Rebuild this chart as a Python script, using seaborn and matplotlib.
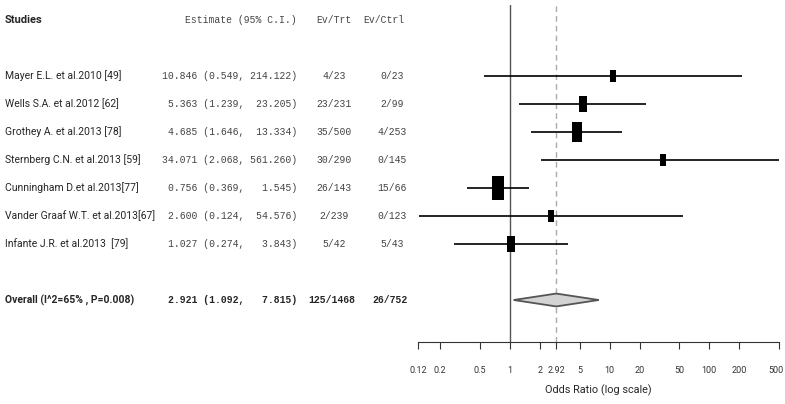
import numpy as np
import pandas as pd
import matplotlib
matplotlib.use("Agg")
import matplotlib.pyplot as plt
import matplotlib.transforms as mtransforms
from matplotlib.ticker import NullLocator
import seaborn as sns

# Study data
studies = ["Mayer E.L. et al.2010 [49]", "Wells S.A. et al.2012 [62]",
           "Grothey A. et al.2013 [78]", "Sternberg C.N. et al.2013 [59]",
           "Cunningham D.et al.2013[77]", "Vander Graaf W.T. et al.2013[67]",
           "Infante J.R. et al.2013  [79]"]
estimate = [10.846, 5.363, 4.685, 34.071, 0.756, 2.600, 1.027]
ci_low = [0.549, 1.239, 1.646, 2.068, 0.369, 0.124, 0.274]
ci_high = [214.122, 23.205, 13.334, 561.260, 1.545, 54.576, 3.843]
ev_trt = ["4/23", "23/231", "35/500", "30/290", "26/143", "2/239", "5/42"]
ev_ctrl = ["0/23", "2/99", "4/253", "0/145", "15/66", "0/123", "5/43"]

# Pooled result
overall_label = "Overall (I^2=65% , P=0.008)"
overall_est = 2.921
overall_low = 1.092
overall_high = 7.815
overall_trt = "125/1468"
overall_ctrl = "26/752"

tick_values = [0.12, 0.2, 0.5, 1, 2, 2.92, 5, 10, 20, 50, 100, 200, 500]
tick_labels = ["0.12", "0.2", "0.5", "1", "2", "2.92", "5", "10", "20", "50", "100", "200", "500"]

sns.set_style("white")
plt.rcParams["font.family"] = ["Roboto", "DejaVu Sans"]

W, H = 785, 404
fig = plt.figure(figsize=(W / 100, H / 100), dpi=100)
ax = fig.add_axes([418 / W, (H - 342) / H, (779 - 418) / W, (342 - 5) / H])

rows = list(range(2, 2 + len(studies)))
overall_row = 10

df = pd.DataFrame({"study": studies, "est": estimate, "lo": ci_low,
                   "hi": ci_high, "row": rows})

# box size from precision (1/se), scaled like R forest plots
se = (np.log(df["hi"]) - np.log(df["lo"])) / (2 * 1.96)
w = 1 / se
psize = (w - w.min()) / (w.max() - w.min())
box_h = 11.5 + 13 * psize  # pixels
df["s"] = (box_h * 0.72) ** 2

ax.axvline(1, color="#555555", lw=1, zorder=1)
ax.axvline(overall_est, color="#aaaaaa", lw=1, dashes=(4, 3), zorder=1)

ax.hlines(df["row"], df["lo"], df["hi"], color="black", lw=1.2, zorder=2)

rect = [(-0.5, -1), (0.5, -1), (0.5, 1), (-0.5, 1), (-0.5, -1)]
sns.scatterplot(data=df, x="est", y="row", marker=rect, s=df["s"].values,
                color="black", linewidth=0, ax=ax, zorder=3)

# summary diamond
dh = 0.23
ax.fill([overall_low, overall_est, overall_high, overall_est],
        [overall_row, overall_row - dh, overall_row, overall_row + dh],
        facecolor="#d3d3d3", edgecolor="#555555", lw=1.3, zorder=3)

ax.set_xscale("log")
ax.set_xlim(0.12, 500)
ax.set_ylim(11.5, -0.536)
ax.set_xticks(tick_values)
ax.set_xticklabels(tick_labels)
ax.xaxis.set_minor_locator(NullLocator())
ax.set_yticks([])
ax.set_ylabel("")
ax.set_xlabel("Odds Ratio (log scale)", fontsize=7.8, labelpad=7)
ax.tick_params(axis="x", direction="out", length=5, width=0.8, pad=12,
               labelsize=6.5, colors="#333333", bottom=True)
for s in ["top", "left", "right"]:
    ax.spines[s].set_visible(False)
ax.spines["bottom"].set_color("#333333")
ax.spines["bottom"].set_linewidth(0.8)
ax.set_facecolor("none")

# keep the last tick label inside the canvas
last = ax.get_xticklabels()[-1]
last.set_transform(last.get_transform() +
                   mtransforms.ScaledTranslation(-3 / 100, 0, fig.dpi_scale_trans))

# left-hand table
tr = mtransforms.blended_transform_factory(fig.transFigure, ax.transData)
mono = "Liberation Mono"
name_fs = 7.5
mono_fs = 7
txt_col = "#444444"

ax.text(5 / W, 0, "Studies", transform=tr, fontsize=8, fontweight="bold",
        ha="left", va="center")
ax.text(297 / W, 0, "Estimate (95% C.I.)", transform=tr, family=mono,
        fontsize=mono_fs, ha="right", va="center", color=txt_col)
ax.text(334 / W, 0, "Ev/Trt", transform=tr, family=mono, fontsize=mono_fs,
        ha="center", va="center", color=txt_col)
ax.text(384 / W, 0, "Ev/Ctrl", transform=tr, family=mono, fontsize=mono_fs,
        ha="center", va="center", color=txt_col)

for i, r in df.iterrows():
    ax.text(5 / W, r["row"], r["study"], transform=tr, fontsize=name_fs,
            ha="left", va="center")
    est_txt = f"{r['est']:.3f} ({r['lo']:.3f}, {r['hi']:7.3f})"
    ax.text(297 / W, r["row"], est_txt, transform=tr, family=mono,
            fontsize=mono_fs, ha="right", va="center", color=txt_col)
    ax.text(334 / W, r["row"], ev_trt[i], transform=tr, family=mono,
            fontsize=mono_fs, ha="center", va="center", color=txt_col)
    ax.text(392 / W, r["row"], ev_ctrl[i], transform=tr, family=mono,
            fontsize=mono_fs, ha="center", va="center", color=txt_col)

ax.text(5 / W, overall_row, overall_label, transform=tr, fontsize=7.5,
        fontweight="bold", ha="left", va="center")
ov_txt = f"{overall_est:.3f} ({overall_low:.3f}, {overall_high:7.3f})"
ax.text(297 / W, overall_row, ov_txt, transform=tr, family=mono,
        fontsize=mono_fs, fontweight="bold", ha="right", va="center")
ax.text(332 / W, overall_row, overall_trt, transform=tr, family=mono,
        fontsize=mono_fs, fontweight="bold", ha="center", va="center")
ax.text(390 / W, overall_row, overall_ctrl, transform=tr, family=mono,
        fontsize=mono_fs, fontweight="bold", ha="center", va="center")

fig.savefig("out.png", dpi=100, facecolor="white")
